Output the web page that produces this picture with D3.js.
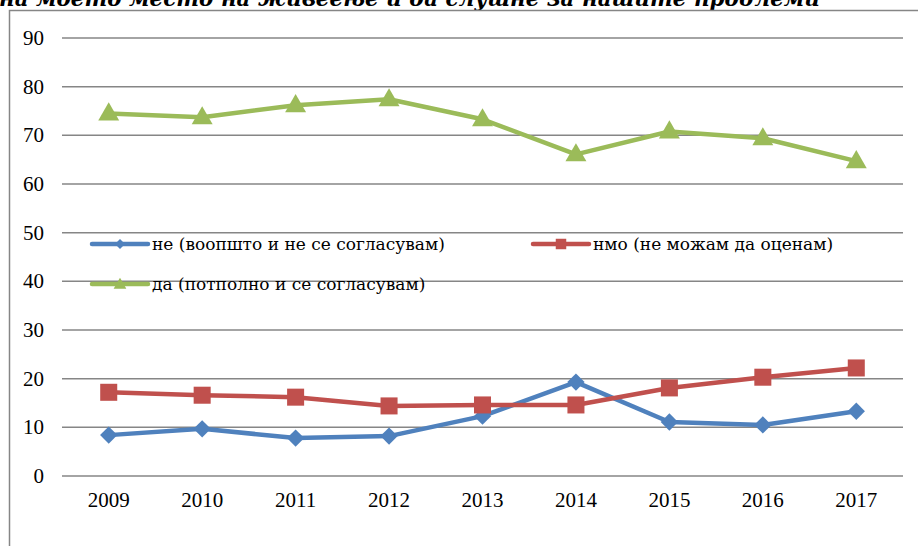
<!DOCTYPE html>
<html>
<head>
<meta charset="utf-8">
<script src="https://cdn.jsdelivr.net/npm/d3@7"></script>
<style>
  body { margin: 0; background: #fff; }
  svg text { font-family: "Liberation Serif", "Times New Roman", serif; }
  svg text.cyr { font-family: "DejaVu Serif", serif; }
</style>
</head>
<body>
<svg id="chart" width="918" height="546"></svg>
<script>
// data
var years = ["2009", "2010", "2011", "2012", "2013", "2014", "2015", "2016", "2017"];
var ne = [8.4, 9.7, 7.8, 8.2, 12.3, 19.3, 11.1, 10.5, 13.3];
var nmo = [17.2, 16.6, 16.2, 14.4, 14.6, 14.6, 18.1, 20.3, 22.2];
var da = [74.5, 73.7, 76.2, 77.4, 73.3, 66.1, 70.8, 69.4, 64.7];
var yTicks = [0, 10, 20, 30, 40, 50, 60, 70, 80, 90];
var seriesNames = ["не (воопшто и не се согласувам)", "нмо (не можам да оценам)", "да (потполно и се согласувам)"];
var title = "на моето место на живеење и да слушне за нашите проблеми";

var series = [
    {name: seriesNames[0], values: ne, color: "#4F81BD", shape: "diamond"},
    {name: seriesNames[1], values: nmo, color: "#C0504D", shape: "square"},
    {name: seriesNames[2], values: da, color: "#9BBB59", shape: "triangle"}
];

function marker(shape, big) {
    if (shape === "square") return {d: d3.symbol().type(d3.symbolSquare).size(big ? 290 : 110)(), rot: 0, dy: 0};
    if (shape === "diamond") return {d: d3.symbol().type(d3.symbolSquare).size(big ? 150 : 50)(), rot: 45, dy: 0};
    return {d: d3.symbol().type(d3.symbolTriangle).size(big ? 190 : 70)(), rot: 0, dy: 1};
}

var svg = d3.select("#chart"),
    margin = {top: 38, left: 62},
    width = 903 - margin.left,
    height = 476 - margin.top;

// title, cut off at the top as in the source
svg.append("text")
    .attr("class", "cyr")
    .attr("x", -1)
    .attr("y", 6)
    .style("font-size", "21.5px")
    .style("font-weight", "bold")
    .style("font-style", "italic")
    .text(title);

// chart frame
svg.append("path")
    .attr("d", "M9.5,546 V10.5 H918")
    .attr("fill", "none")
    .attr("stroke", "#868686")
    .attr("stroke-width", 1.5);

var x = d3.scaleBand().domain(years).range([0, width]),
    y = d3.scaleLinear().domain([0, 90]).range([height, 0]);

var g = svg.append("g")
    .attr("transform", "translate(" + margin.left + "," + margin.top + ")");

// gridlines
g.append("g")
    .selectAll("line")
    .data(yTicks)
    .join("line")
    .attr("x1", 0)
    .attr("x2", width)
    .attr("y1", d => y(d))
    .attr("y2", d => y(d))
    .attr("stroke", "#868686")
    .attr("stroke-width", 1.5);

// Y axis labels
g.append("g")
    .selectAll("text")
    .data(yTicks)
    .join("text")
    .attr("x", -18)
    .attr("y", d => y(d))
    .attr("dy", "0.33em")
    .attr("text-anchor", "end")
    .style("font-size", "21px")
    .text(d => d);

// X axis labels
g.append("g")
    .selectAll("text")
    .data(years)
    .join("text")
    .attr("x", d => x(d) + x.bandwidth() / 2)
    .attr("y", height + 31)
    .attr("text-anchor", "middle")
    .style("font-size", "21px")
    .text(d => d);

var line = d3.line()
    .x((d, i) => x(years[i]) + x.bandwidth() / 2)
    .y(d => y(d));

// lines first, markers on top
series.forEach(function (s) {
    g.append("path")
        .datum(s.values)
        .attr("fill", "none")
        .attr("stroke", s.color)
        .attr("stroke-width", 4.5)
        .attr("stroke-linejoin", "round")
        .attr("d", line);
});

series.forEach(function (s) {
    var m = marker(s.shape, true);
    g.append("g")
        .selectAll("path")
        .data(s.values)
        .join("path")
        .attr("transform", (d, i) => "translate(" + (x(years[i]) + x.bandwidth() / 2) + "," + (y(d) + m.dy) + ") rotate(" + m.rot + ")")
        .attr("d", m.d)
        .attr("fill", s.color);
});

// legend (transparent, gridlines show through)
var legendPos = [[92, 244], [533, 244], [92, 284]];
var legend = svg.append("g");
series.forEach(function (s, i) {
    var m = marker(s.shape, false);
    var lg = legend.append("g")
        .attr("transform", "translate(" + legendPos[i][0] + "," + legendPos[i][1] + ")");
    lg.append("line")
        .attr("x1", 0).attr("x2", 56)
        .attr("stroke", s.color)
        .attr("stroke-width", 4.5)
        .attr("stroke-linecap", "round");
    lg.append("path")
        .attr("transform", "translate(28," + m.dy + ") rotate(" + m.rot + ")")
        .attr("d", m.d)
        .attr("fill", s.color);
    lg.append("text")
        .attr("class", "cyr")
        .attr("x", 60)
        .attr("dy", "0.33em")
        .style("font-size", "17px")
        .text(s.name);
});
</script>
</body>
</html>
